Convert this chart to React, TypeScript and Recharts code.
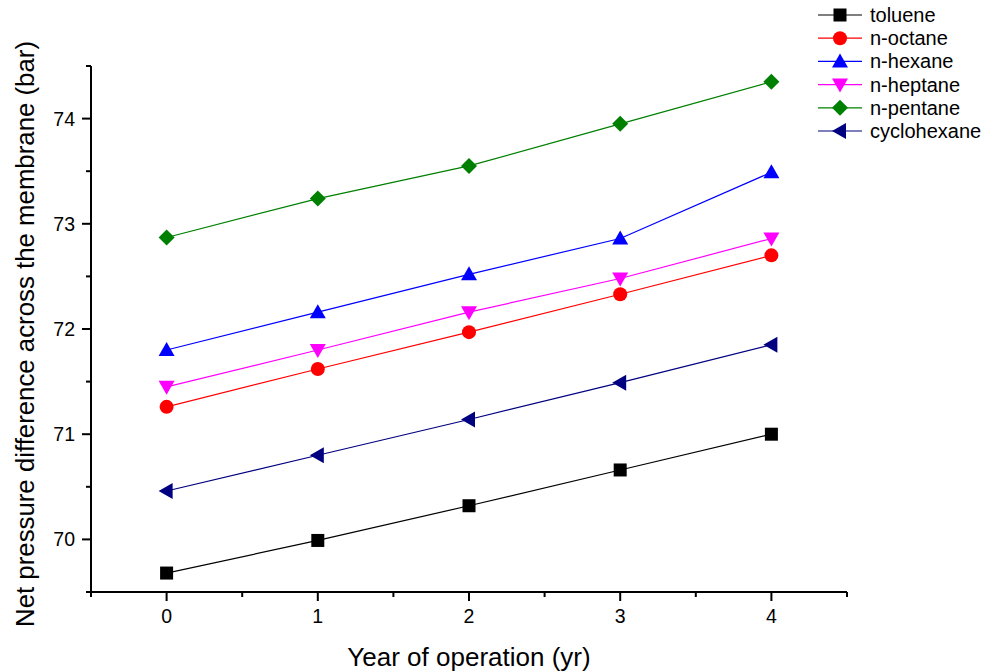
import React from 'react';
import { LineChart, Line, XAxis, YAxis, Label } from 'recharts';

const years = [0, 1, 2, 3, 4];
const toluene = [69.68, 69.99, 70.32, 70.66, 71.0];
const nOctane = [71.26, 71.62, 71.97, 72.33, 72.7];
const nHexane = [71.8, 72.16, 72.52, 72.86, 73.49];
const nHeptane = [71.45, 71.8, 72.16, 72.48, 72.86];
const nPentane = [72.87, 73.24, 73.55, 73.95, 74.35];
const cyclohexane = [70.46, 70.8, 71.14, 71.49, 71.85];

const xTicks = [-0.5, 0, 0.5, 1, 1.5, 2, 2.5, 3, 3.5, 4, 4.5];
const yTicks = [69.5, 70, 70.5, 71, 71.5, 72, 72.5, 73, 73.5, 74, 74.5];

const series = [
  { key: 'toluene', name: 'toluene', color: '#000000', shape: 'square', values: toluene },
  { key: 'nOctane', name: 'n-octane', color: '#ff0000', shape: 'circle', values: nOctane },
  { key: 'nHexane', name: 'n-hexane', color: '#0000ff', shape: 'up', values: nHexane },
  { key: 'nHeptane', name: 'n-heptane', color: '#ff00ff', shape: 'down', values: nHeptane },
  { key: 'nPentane', name: 'n-pentane', color: '#008000', shape: 'diamond', values: nPentane },
  { key: 'cyclohexane', name: 'cyclohexane', color: '#000080', shape: 'left', values: cyclohexane },
];

const data = years.map((yr, i) => {
  const row: any = { yr };
  series.forEach(s => { row[s.key] = s.values[i]; });
  return row;
});

const FONT = 'Arial, "Liberation Sans", sans-serif';

const Marker = ({ cx, cy, shape, color }: any) => {
  if (cx == null || cy == null) return null;
  switch (shape) {
    case 'square':
      return <rect x={cx - 6.5} y={cy - 6.5} width={13} height={13} fill={color} />;
    case 'circle':
      return <circle cx={cx} cy={cy} r={7} fill={color} />;
    case 'up':
      return <polygon points={`${cx},${cy - 8} ${cx - 8},${cy + 6} ${cx + 8},${cy + 6}`} fill={color} />;
    case 'down':
      return <polygon points={`${cx},${cy + 8} ${cx - 8},${cy - 6} ${cx + 8},${cy - 6}`} fill={color} />;
    case 'diamond':
      return <polygon points={`${cx},${cy - 8} ${cx + 8},${cy} ${cx},${cy + 8} ${cx - 8},${cy}`} fill={color} />;
    case 'left':
      return <polygon points={`${cx - 8},${cy} ${cx + 6},${cy - 8} ${cx + 6},${cy + 8}`} fill={color} />;
    default:
      return null;
  }
};

const XTick = ({ x, y, payload }: any) => {
  const major = Number.isInteger(payload.value);
  return (
    <g>
      <line x1={x} y1={y - 8} x2={x} y2={y - 8 + (major ? 9 : 5)} stroke="#000" strokeWidth={2} />
      {major && (
        <text x={x} y={y + 23} textAnchor="middle" fontSize={19.5} fontFamily={FONT} fill="#000">
          {payload.value}
        </text>
      )}
    </g>
  );
};

const YTick = ({ x, y, payload }: any) => {
  const major = Number.isInteger(payload.value);
  return (
    <g>
      <line x1={x + 8} y1={y} x2={x + 8 - (major ? 9 : 5)} y2={y} stroke="#000" strokeWidth={2} />
      {major && (
        <text x={x - 8} y={y + 7} textAnchor="end" fontSize={19.5} fontFamily={FONT} fill="#000">
          {payload.value}
        </text>
      )}
    </g>
  );
};

const YTitle = ({ viewBox }: any) => {
  const cx = viewBox.x + 25;
  const cy = viewBox.y + viewBox.height / 2 + 5;
  return (
    <text
      x={cx}
      y={cy}
      transform={`rotate(-90, ${cx}, ${cy})`}
      textAnchor="middle"
      dominantBaseline="central"
      fontSize={25.8}
      fontFamily={FONT}
      fill="#000"
    >
      Net pressure difference across the membrane (bar)
    </text>
  );
};

const LegendBox = () => (
  <svg width={187} height={150} style={{ position: 'absolute', left: 810, top: 0 }}>
    {series.map((s, i) => {
      const cy = 15 + i * 23.2;
      return (
        <g key={s.key}>
          <line x1={8} x2={52} y1={cy} y2={cy} stroke={s.color} strokeWidth={1.2} />
          <Marker cx={30} cy={cy} shape={s.shape} color={s.color} />
          <text x={60} y={cy + 7} fontSize={20} fontFamily={FONT} fill="#000">{s.name}</text>
        </g>
      );
    })}
  </svg>
);

export default function App() {
  return (
    <div style={{ width: 987, height: 671, background: '#fff', position: 'relative' }}>
      <style>{`body{margin:0}`}</style>
      <LineChart width={987} height={671} data={data} margin={{ top: 66, right: 140, left: 0, bottom: 0 }}>
        <XAxis
          dataKey="yr"
          type="number"
          domain={[-0.5, 4.5]}
          ticks={xTicks}
          interval={0}
          height={79}
          tickLine={false}
          tick={<XTick />}
          axisLine={{ stroke: '#000', strokeWidth: 2 }}
        >
          <Label value="Year of operation (yr)" position="insideBottom" offset={5} style={{ fontSize: 26, fontFamily: FONT, fill: '#000' }} />
        </XAxis>
        <YAxis
          type="number"
          domain={[69.5, 74.5]}
          ticks={yTicks}
          interval={0}
          width={91}
          tickLine={false}
          tick={<YTick />}
          axisLine={{ stroke: '#000', strokeWidth: 2 }}
        >
          <Label content={<YTitle />} />
        </YAxis>
        {series.map(s => (
          <Line
            key={s.key}
            dataKey={s.key}
            name={s.name}
            stroke={s.color}
            strokeWidth={1.2}
            isAnimationActive={false}
            dot={(p: any) => <Marker key={`${s.key}-${p.index}`} cx={p.cx} cy={p.cy} shape={s.shape} color={s.color} />}
            activeDot={false}
          />
        ))}
      </LineChart>
      <LegendBox />
    </div>
  );
}
